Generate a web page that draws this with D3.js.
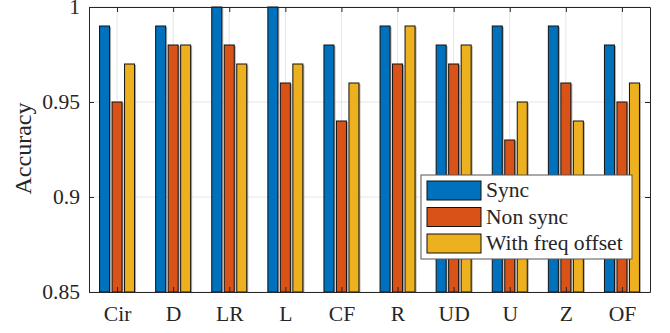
<!DOCTYPE html>
<html>
<head>
<meta charset="utf-8">
<script src="https://cdn.jsdelivr.net/npm/d3@7"></script>
<style>
  body { margin: 0; background: #fff; }
  svg text { font-family: "Liberation Serif", "Times New Roman", serif; fill: #262626; }
</style>
</head>
<body>
<div id="chart"></div>
<script>
// data
const categories = ["Cir", "D", "LR", "L", "CF", "R", "UD", "U", "Z", "OF"];
const seriesNames = ["Sync", "Non sync", "With freq offset"];
const sync      = [0.99, 0.99, 1.00, 1.00, 0.98, 0.99, 0.98, 0.99, 0.99, 0.98];
const nonSync   = [0.95, 0.98, 0.98, 0.96, 0.94, 0.97, 0.97, 0.93, 0.96, 0.95];
const freqOff   = [0.97, 0.98, 0.97, 0.97, 0.96, 0.99, 0.98, 0.95, 0.94, 0.96];
const yTicks = [0.85, 0.9, 0.95, 1];
const colors = ["#0072BD", "#D95319", "#EDB120"];

const W = 670, H = 333;
const margin = { top: 7, right: 20, bottom: 41, left: 89 };
const width = W - margin.left - margin.right;
const height = H - margin.top - margin.bottom;
const fs = "21.6px";

const svg = d3.select("#chart").append("svg")
    .attr("width", W).attr("height", H);
const g = svg.append("g")
    .attr("transform", "translate(" + margin.left + "," + margin.top + ")");

// x: linear over category index like matlab (xlim 0.5..10.5)
const x = d3.scaleLinear().domain([0.5, categories.length + 0.5]).range([0, width]);
const y = d3.scaleLinear().domain([0.85, 1]).range([height, 0]);

// grid
g.append("g").selectAll("line.gy").data(yTicks).join("line")
    .attr("x1", 0).attr("x2", width)
    .attr("y1", d => y(d)).attr("y2", d => y(d))
    .attr("stroke", "#e6e6e6").attr("stroke-width", 1);
g.append("g").selectAll("line.gx").data(categories).join("line")
    .attr("x1", (d, i) => x(i + 1)).attr("x2", (d, i) => x(i + 1))
    .attr("y1", 0).attr("y2", height)
    .attr("stroke", "#e6e6e6").attr("stroke-width", 1);

// bars
const rows = categories.map((c, i) => ({ cat: c, i: i, vals: [sync[i], nonSync[i], freqOff[i]] }));
const offsets = [-12.5, 0, 12.5];
const barW = 10;

rows.forEach(function(r) {
    r.vals.forEach(function(v, k) {
        const cx = x(r.i + 1) + offsets[k];
        // soft shadow on the right edge
        g.append("rect")
            .attr("x", cx - barW / 2 + 1.5)
            .attr("y", y(v) + 1)
            .attr("width", barW)
            .attr("height", height - y(v) - 1)
            .attr("fill", "#7a7a7a").attr("opacity", 0.6);
        g.append("rect")
            .attr("x", cx - barW / 2)
            .attr("y", y(v))
            .attr("width", barW)
            .attr("height", height - y(v))
            .attr("fill", colors[k])
            .attr("stroke", "#111").attr("stroke-width", 1);
    });
});

// axes box with inward ticks
const axisCol = "#262626";
const xAxis = d3.axisBottom(x).tickValues(d3.range(1, categories.length + 1))
    .tickFormat(d => categories[d - 1]).tickSizeInner(-5).tickSizeOuter(0).tickPadding(14);
const gx = g.append("g").attr("transform", "translate(0," + height + ")").call(xAxis);
gx.select(".domain").attr("stroke", axisCol);
gx.selectAll(".tick line").attr("stroke", axisCol);
gx.selectAll("text").style("font-size", fs).attr("fill", axisCol);

const yAxis = d3.axisLeft(y).tickValues(yTicks).tickFormat(d3.format("~g"))
    .tickSizeInner(-5).tickSizeOuter(0).tickPadding(9);
const gy = g.append("g").call(yAxis);
gy.select(".domain").attr("stroke", axisCol);
gy.selectAll(".tick line").attr("stroke", axisCol);
gy.selectAll("text").style("font-size", fs).attr("fill", axisCol);

const gt = g.append("g").call(d3.axisTop(x).tickValues(d3.range(1, categories.length + 1))
    .tickFormat("").tickSizeInner(-5).tickSizeOuter(0));
gt.select(".domain").attr("stroke", axisCol);
gt.selectAll(".tick line").attr("stroke", axisCol);
const gr = g.append("g").attr("transform", "translate(" + width + ",0)")
    .call(d3.axisRight(y).tickValues(yTicks).tickFormat("").tickSizeInner(-5).tickSizeOuter(0));
gr.select(".domain").attr("stroke", axisCol);
gr.selectAll(".tick line").attr("stroke", axisCol);

svg.append("text")
    .attr("transform", "translate(31," + (margin.top + height / 2 - 1) + ") rotate(-90)")
    .attr("text-anchor", "middle")
    .style("font-size", "24px")
    .text("Accuracy");

// legend
const leg = svg.append("g").attr("transform", "translate(421,175)");
leg.append("rect").attr("width", 211).attr("height", 84)
    .attr("fill", "#fff").attr("stroke", "#555").attr("stroke-width", 1);
seriesNames.forEach(function(name, k) {
    const yy = 6 + k * 26.5;
    leg.append("rect").attr("x", 6).attr("y", yy).attr("width", 54).attr("height", 19)
        .attr("fill", colors[k]).attr("stroke", "#111").attr("stroke-width", 1);
    leg.append("text").attr("x", 65).attr("y", yy + 16)
        .style("font-size", fs).text(name);
});
</script>
</body>
</html>
